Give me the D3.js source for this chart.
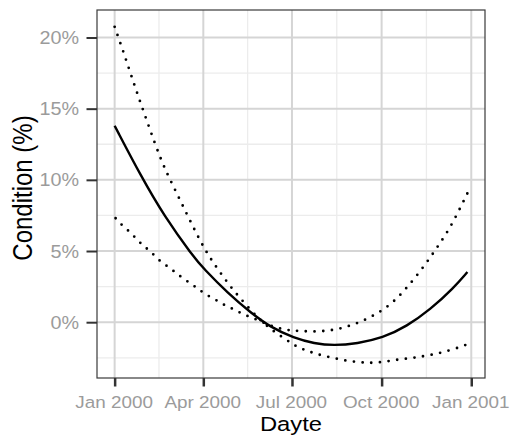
<!DOCTYPE html>
<html><head><meta charset="utf-8">
<script src="https://cdn.jsdelivr.net/npm/d3@7"></script>
<style>html,body{margin:0;padding:0;background:#fff;} svg{display:block;}</style>
</head><body><svg id="chart" width="510" height="435"></svg>
<script>
// ---- data ----
const xTickDates = ["2000-01-01","2000-04-01","2000-07-01","2000-10-01","2001-01-01"];
const xTickLabels = ["Jan 2000","Apr 2000","Jul 2000","Oct 2000","Jan 2001"];
const yTicks = [0,5,10,15,20];
const yTickLabels = ["0%","5%","10%","15%","20%"];

const fitDates = ["2000-01-01","2000-01-28","2000-02-21","2000-03-21","2000-04-02","2000-04-26","2000-05-20","2000-06-09","2000-07-03","2000-07-24","2000-08-13","2000-09-06","2000-10-02","2000-10-27","2000-11-20","2000-12-14","2000-12-28"];
const fitValues = [13.80,10.26,7.44,4.67,3.71,2.06,0.65,-0.35,-1.11,-1.50,-1.64,-1.50,-1.11,-0.28,0.89,2.41,3.52];

const bandADates = ["2000-01-01","2000-01-11","2000-01-23","2000-02-05","2000-02-18","2000-03-02","2000-03-15","2000-03-28","2000-04-07","2000-04-18","2000-04-30","2000-05-13","2000-05-27","2000-06-10","2000-06-26","2000-07-06","2000-07-15","2000-07-25","2000-08-04","2000-08-16","2000-08-26","2000-09-06","2000-09-16","2000-09-26","2000-10-07","2000-10-17","2000-10-29","2000-11-08","2000-11-19","2000-11-30","2000-12-10","2000-12-21","2000-12-28"];
const bandAValues = [20.75,18.80,16.29,13.78,11.27,9.44,7.61,5.80,4.60,3.52,2.39,1.36,0.30,-0.55,-1.27,-1.74,-1.97,-2.21,-2.39,-2.56,-2.72,-2.79,-2.86,-2.84,-2.75,-2.63,-2.54,-2.44,-2.32,-2.16,-1.97,-1.74,-1.55];

const bandBDates = ["2000-01-02","2000-01-09","2000-01-17","2000-01-24","2000-01-31","2000-02-08","2000-02-15","2000-02-24","2000-03-03","2000-03-11","2000-03-20","2000-03-28","2000-04-05","2000-04-15","2000-04-23","2000-05-03","2000-05-12","2000-05-23","2000-06-10","2000-06-26","2000-07-06","2000-07-27","2000-08-17","2000-09-06","2000-09-26","2000-10-13","2000-10-26","2000-11-08","2000-11-20","2000-12-01","2000-12-12","2000-12-25","2000-12-28"];
const bandBValues = [7.30,6.78,6.32,5.80,5.33,4.91,4.37,3.94,3.52,3.08,2.68,2.27,1.88,1.53,1.18,0.89,0.54,0.28,-0.30,-0.56,-0.61,-0.68,-0.52,-0.09,0.56,1.39,2.35,3.43,4.55,5.66,6.83,8.63,9.05];

// ---- layout ----
const panel = {left:97, right:485, top:10, bottom:378};
const FONT = '"Liberation Sans", Arial, Helvetica, sans-serif';
const SX = 1.11; // horizontal glyph stretch seen in reference

const parse = d3.utcParse("%Y-%m-%d");
const toPts = (ds, vs) => ds.map((d,i)=>({date:parse(d), value:vs[i]}));
const fit = toPts(fitDates, fitValues);
const bandA = toPts(bandADates, bandAValues);
const bandB = toPts(bandBDates, bandBValues);

const allDates = fit.concat(bandA, bandB).map(d=>d.date);
const dMin = d3.min(allDates), dMax = d3.max(allDates);
const pad = (dMax - dMin) * 0.05;
const x = d3.scaleUtc().domain([new Date(+dMin - pad), new Date(+dMax + pad)]).range([panel.left, panel.right]);
const y = d3.scaleLinear().domain([-3.92, 21.93]).range([panel.bottom, panel.top]);

const svg = d3.select("#chart");
svg.append("rect").attr("width",510).attr("height",435).attr("fill","#fff");

const xMajor = xTickDates.map(parse);
const xMinor = d3.pairs(xMajor).map(([a,b]) => new Date((+a + +b)/2));
const yMinor = d3.pairs(yTicks).map(([a,b]) => (a+b)/2).concat([yTicks[0] - 2.5]);

const grid = svg.append("g");
grid.selectAll(".xmin").data(xMinor).join("line")
  .attr("x1",d=>x(d)).attr("x2",d=>x(d)).attr("y1",panel.top).attr("y2",panel.bottom)
  .attr("stroke","#ececec").attr("stroke-width",1.3);
grid.selectAll(".ymin").data(yMinor).join("line")
  .attr("y1",d=>y(d)).attr("y2",d=>y(d)).attr("x1",panel.left).attr("x2",panel.right)
  .attr("stroke","#ececec").attr("stroke-width",1.3);
grid.selectAll(".xmaj").data(xMajor).join("line")
  .attr("x1",d=>x(d)).attr("x2",d=>x(d)).attr("y1",panel.top).attr("y2",panel.bottom)
  .attr("stroke","#d5d5d5").attr("stroke-width",2);
grid.selectAll(".ymaj").data(yTicks).join("line")
  .attr("y1",d=>y(d)).attr("y2",d=>y(d)).attr("x1",panel.left).attr("x2",panel.right)
  .attr("stroke","#d5d5d5").attr("stroke-width",2);

const line = d3.line().x(d=>x(d.date)).y(d=>y(d.value)).curve(d3.curveBasis);

[bandA, bandB].forEach(band => {
  svg.append("path").datum(band).attr("d",line)
    .attr("fill","none").attr("stroke","#000").attr("stroke-width",2.8)
    .attr("stroke-linecap","round").attr("stroke-dasharray","0,8.7");
});
svg.append("path").datum(fit).attr("d",line)
  .attr("fill","none").attr("stroke","#000").attr("stroke-width",2.4);

// panel border
svg.append("rect").attr("x",panel.left).attr("y",panel.top)
  .attr("width",panel.right-panel.left).attr("height",panel.bottom-panel.top)
  .attr("fill","none").attr("stroke","#3a3a3a").attr("stroke-width",1.2);

// x axis
const gx = svg.append("g").attr("transform",`translate(0,${panel.bottom})`)
  .call(d3.axisBottom(x).tickValues(xMajor).tickFormat((d,i)=>xTickLabels[i]).tickSize(8.5).tickSizeOuter(0));
gx.attr("font-size",null).attr("font-family",null);
gx.select(".domain").remove();
gx.selectAll(".tick line").attr("stroke","#333").attr("stroke-width",2.5);
gx.selectAll(".tick text").attr("y",0).attr("dy",null)
  .attr("transform",`translate(-1,30) scale(${SX},1)`)
  .attr("fill","#9b9b9b").style("font-size","17px").style("font-family",FONT);

// y axis
const gy = svg.append("g").attr("transform",`translate(${panel.left},0)`)
  .call(d3.axisLeft(y).tickValues(yTicks).tickFormat((d,i)=>yTickLabels[i]).tickSize(10.5).tickSizeOuter(0));
gy.attr("font-size",null).attr("font-family",null);
gy.select(".domain").remove();
gy.selectAll(".tick line").attr("stroke","#333").attr("stroke-width",2);
gy.selectAll(".tick text").attr("x",0).attr("dy","0.35em")
  .attr("transform",`translate(-18,0) scale(1.13,1)`)
  .attr("text-anchor","end")
  .attr("fill","#9b9b9b").style("font-size","17.5px").style("font-family",FONT);

// titles
svg.append("text").text("Dayte")
  .attr("transform",`translate(${(panel.left+panel.right)/2},430.5) scale(1.16,1)`)
  .attr("text-anchor","middle").attr("fill","#000")
  .style("font-size","20.5px").style("font-family",FONT);
svg.append("text").text("Condition (%)")
  .attr("transform",`translate(32,188) scale(1.13,1) rotate(-90)`)
  .attr("text-anchor","middle").attr("fill","#000")
  .style("font-size","24px").style("font-family",FONT);
</script></body></html>
